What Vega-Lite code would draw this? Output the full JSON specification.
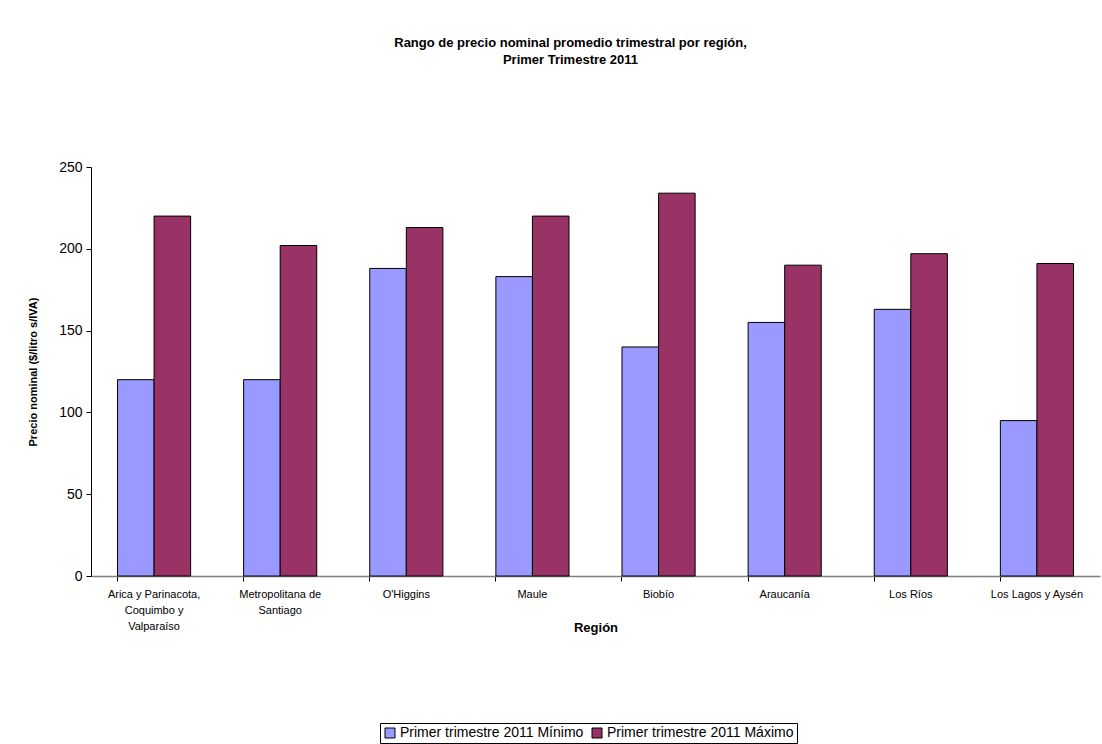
{
  "$schema": "https://vega.github.io/schema/vega-lite/v6.json",
  "width": 1009,
  "height": 409,
  "autosize": {"type": "none"},
  "padding": {"left": 91, "top": 167, "right": 2, "bottom": 168},
  "background": "white",
  "title": {
    "text": ["Rango de precio nominal promedio trimestral por región,", "Primer Trimestre 2011"],
    "font": "Liberation Sans",
    "fontSize": 13,
    "fontWeight": "bold",
    "color": "black",
    "anchor": "middle",
    "frame": "group",
    "dx": -25,
    "offset": 93,
    "lineHeight": 17
  },
  "data": {
    "values": [
      {"region": "Arica y Parinacota,|Coquimbo y|Valparaíso", "serie": "Primer trimestre 2011 Mínimo", "precio": 120},
      {"region": "Arica y Parinacota,|Coquimbo y|Valparaíso", "serie": "Primer trimestre 2011 Máximo", "precio": 220},
      {"region": "Metropolitana de|Santiago", "serie": "Primer trimestre 2011 Mínimo", "precio": 120},
      {"region": "Metropolitana de|Santiago", "serie": "Primer trimestre 2011 Máximo", "precio": 202},
      {"region": "O'Higgins", "serie": "Primer trimestre 2011 Mínimo", "precio": 188},
      {"region": "O'Higgins", "serie": "Primer trimestre 2011 Máximo", "precio": 213},
      {"region": "Maule", "serie": "Primer trimestre 2011 Mínimo", "precio": 183},
      {"region": "Maule", "serie": "Primer trimestre 2011 Máximo", "precio": 220},
      {"region": "Biobío", "serie": "Primer trimestre 2011 Mínimo", "precio": 140},
      {"region": "Biobío", "serie": "Primer trimestre 2011 Máximo", "precio": 234},
      {"region": "Araucanía", "serie": "Primer trimestre 2011 Mínimo", "precio": 155},
      {"region": "Araucanía", "serie": "Primer trimestre 2011 Máximo", "precio": 190},
      {"region": "Los Ríos", "serie": "Primer trimestre 2011 Mínimo", "precio": 163},
      {"region": "Los Ríos", "serie": "Primer trimestre 2011 Máximo", "precio": 197},
      {"region": "Los Lagos y Aysén", "serie": "Primer trimestre 2011 Mínimo", "precio": 95},
      {"region": "Los Lagos y Aysén", "serie": "Primer trimestre 2011 Máximo", "precio": 191}
    ]
  },
  "mark": {"type": "bar", "stroke": "black", "strokeWidth": 1},
  "encoding": {
    "x": {
      "field": "region",
      "type": "nominal",
      "sort": null,
      "scale": {"paddingInner": 0.42, "paddingOuter": 0.21},
      "axis": {
        "title": "Región",
        "titleFont": "Liberation Sans",
        "titleFontSize": 13,
        "titleFontWeight": "bold",
        "titleColor": "black",
        "titlePadding": -10,
        "labelExpr": "split(datum.label, '|')",
        "labelAngle": 0,
        "labelFont": "Liberation Sans",
        "labelFontSize": 11,
        "labelColor": "black",
        "labelLineHeight": 16,
        "labelPadding": 7,
        "labelLimit": 200,
        "bandPosition": 0,
        "tickColor": "black",
        "tickSize": 5,
        "domainColor": "#808080",
        "domainWidth": 1.5
      }
    },
    "xOffset": {
      "field": "serie",
      "type": "nominal",
      "sort": ["Primer trimestre 2011 Mínimo", "Primer trimestre 2011 Máximo"]
    },
    "y": {
      "field": "precio",
      "type": "quantitative",
      "scale": {"domain": [0, 250]},
      "axis": {
        "title": "Precio nominal ($/litro s/IVA)",
        "titleFont": "Liberation Sans",
        "titleFontSize": 11,
        "titleFontWeight": "bold",
        "titleColor": "black",
        "titlePadding": 20,
        "values": [0, 50, 100, 150, 200, 250],
        "labelFont": "Liberation Sans",
        "labelFontSize": 14,
        "labelColor": "black",
        "labelPadding": 4,
        "grid": false,
        "tickColor": "black",
        "tickSize": 5,
        "domainColor": "black"
      }
    },
    "color": {
      "field": "serie",
      "type": "nominal",
      "sort": ["Primer trimestre 2011 Mínimo", "Primer trimestre 2011 Máximo"],
      "scale": {"range": ["#9999FF", "#993366"]},
      "legend": {
        "title": null,
        "orient": "none",
        "legendX": 289,
        "legendY": 556,
        "direction": "horizontal",
        "symbolType": "square",
        "symbolSize": 100,
        "symbolStrokeColor": "black",
        "symbolStrokeWidth": 1,
        "labelFont": "Liberation Sans",
        "labelFontSize": 14,
        "labelColor": "black",
        "labelLimit": 300,
        "columnPadding": 6,
        "labelOffset": 3,
        "padding": 3,
        "strokeColor": "black",
        "fillColor": "white"
      }
    }
  },
  "config": {
    "view": {"stroke": null}
  }
}
